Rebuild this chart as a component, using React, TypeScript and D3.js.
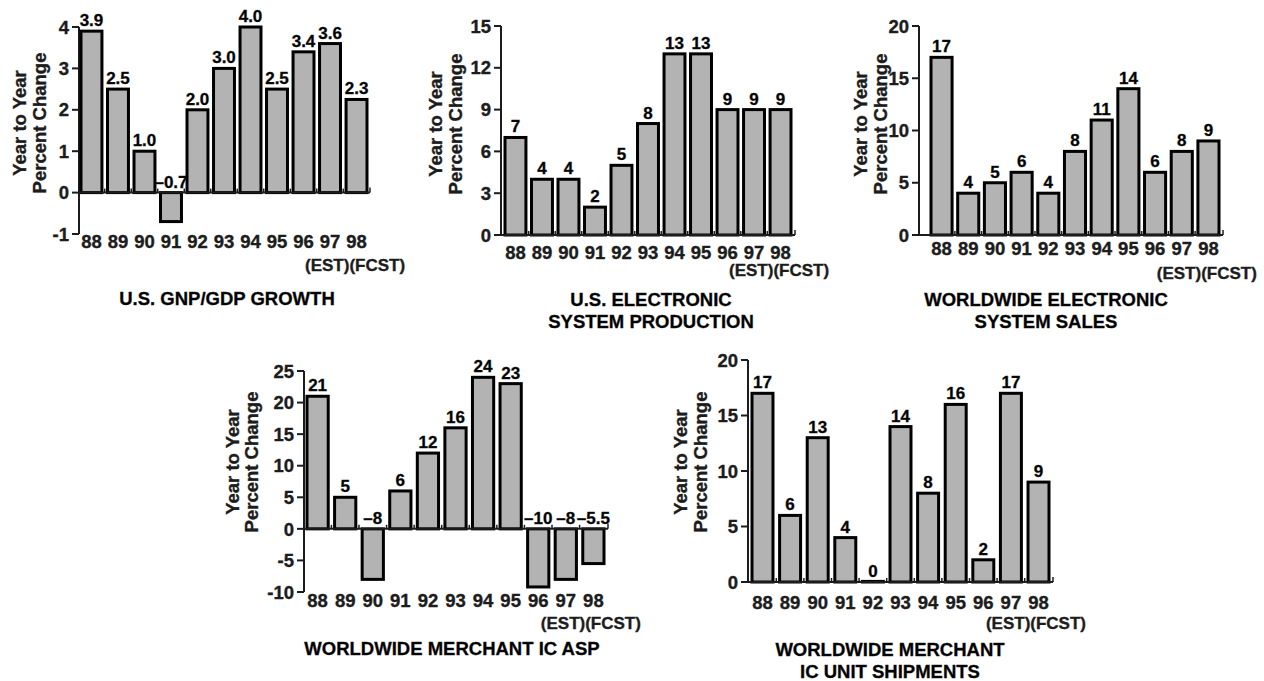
import React from "react";
import * as d3 from "d3";

const years = ["88", "89", "90", "91", "92", "93", "94", "95", "96", "97", "98"];

const gnpValues = [3.9, 2.5, 1.0, -0.7, 2.0, 3.0, 4.0, 2.5, 3.4, 3.6, 2.25];
const gnpLabels = ["3.9", "2.5", "1.0", "\u20130.7", "2.0", "3.0", "4.0", "2.5", "3.4", "3.6", "2.3"];
const gnpTicks = [-1, 0, 1, 2, 3, 4];

const prodValues = [7, 4, 4, 2, 5, 8, 13, 13, 9, 9, 9];
const prodLabels = ["7", "4", "4", "2", "5", "8", "13", "13", "9", "9", "9"];
const prodTicks = [0, 3, 6, 9, 12, 15];

const salesValues = [17, 4, 5, 6, 4, 8, 11, 14, 6, 8, 9];
const salesLabels = ["17", "4", "5", "6", "4", "8", "11", "14", "6", "8", "9"];
const salesTicks = [0, 5, 10, 15, 20];

const aspValues = [21, 5, -8, 6, 12, 16, 24, 23, -9.2, -8, -5.5];
const aspLabels = ["21", "5", "\u20138", "6", "12", "16", "24", "23", "\u201310", "\u20138", "\u20135.5"];
const aspTicks = [-10, -5, 0, 5, 10, 15, 20, 25];

const unitValues = [17, 6, 13, 4, 0, 14, 8, 16, 2, 17, 9];
const unitLabels = ["17", "6", "13", "4", "0", "14", "8", "16", "2", "17", "9"];
const unitTicks = [0, 5, 10, 15, 20];

const estLabel = "(EST)(FCST)";
const yTitle1 = "Year to Year";
const yTitle2 = "Percent Change";

const panels = [
  {
    values: gnpValues, labels: gnpLabels, ticks: gnpTicks, domain: [-1, 4],
    title: ["U.S. GNP/GDP GROWTH"],
    axisX: 79, yTop: 27, yBottom: 234, barStart: 81, barEnd: 367, pad: 0.21, axisEnd: 370,
    xLabelY: 248, estY: 271, titleX: 227, titleY: 305, ylabX1: 19, ylabX2: 41, ylabY: 123,
  },
  {
    values: prodValues, labels: prodLabels, ticks: prodTicks, domain: [0, 15],
    title: ["U.S. ELECTRONIC", "SYSTEM PRODUCTION"],
    axisX: 501, yTop: 26, yBottom: 235, barStart: 505, barEnd: 791, pad: 0.21, axisEnd: 795,
    xLabelY: 259, estY: 276, titleX: 651, titleY: 306, ylabX1: 435, ylabX2: 457, ylabY: 124,
  },
  {
    values: salesValues, labels: salesLabels, ticks: salesTicks, domain: [0, 20],
    title: ["WORLDWIDE ELECTRONIC", "SYSTEM SALES"],
    axisX: 919, yTop: 26, yBottom: 235, barStart: 931, barEnd: 1219, pad: 0.21, axisEnd: 1223,
    xLabelY: 255, estY: 279, titleX: 1046, titleY: 306, ylabX1: 860, ylabX2: 882, ylabY: 124,
  },
  {
    values: aspValues, labels: aspLabels, ticks: aspTicks, domain: [-10, 25],
    title: ["WORLDWIDE MERCHANT IC ASP"],
    axisX: 304, yTop: 371, yBottom: 592, barStart: 307, barEnd: 604, pad: 0.23, axisEnd: 608,
    xLabelY: 607, estY: 629, titleX: 452, titleY: 655, ylabX1: 232, ylabX2: 253, ylabY: 462,
  },
  {
    values: unitValues, labels: unitLabels, ticks: unitTicks, domain: [0, 20],
    title: ["WORLDWIDE MERCHANT", "IC UNIT SHIPMENTS"],
    axisX: 748, yTop: 360, yBottom: 582, barStart: 752, barEnd: 1049, pad: 0.24, axisEnd: 1053,
    xLabelY: 609, estY: 629, titleX: 890, titleY: 656, ylabX1: 680, ylabX2: 702, ylabY: 462,
  },
];

const FONT = "'Liberation Sans', Arial, Helvetica, sans-serif";
const INK = "#1c1c1c";
const TXT = { fontWeight: "bold" as const, stroke: INK, strokeWidth: 0.35 };

function Panel({ p }: { p: any }) {
  const x = d3.scaleBand<string>().domain(years).range([p.barStart, p.barEnd]).paddingInner(p.pad).paddingOuter(0);
  const y = d3.scaleLinear().domain(p.domain).range([p.yBottom, p.yTop]);
  const bw = x.bandwidth();
  const gap = x.step() - bw;
  const y0 = y(0);
  return (
    <g>
      {/* y axis */}
      <line x1={p.axisX} x2={p.axisX} y1={y(p.domain[1])} y2={y(p.domain[0])} stroke={INK} strokeWidth={2} />
      {p.ticks.map((t: number) => (
        <g key={t}>
          <line x1={p.axisX - 7} x2={p.axisX} y1={y(t)} y2={y(t)} stroke={INK} strokeWidth={2} />
          <text x={p.axisX - 10} y={y(t)} dy="0.36em" textAnchor="end" fontSize={18.5} fill={INK} {...TXT}>
            {String(t)}
          </text>
        </g>
      ))}
      {/* bars */}
      {p.values.map((v: number, i: number) => {
        const yr = years[i];
        const hRaw = Math.abs(y(v) - y0);
        const h = Math.max(hRaw, 0.6);
        const yy = v >= 0 ? y0 - h : y0;
        return (
          <rect key={yr} x={x(yr)} y={yy} width={bw} height={h} fill="#b3b3b3" stroke="#000" strokeWidth={3} />
        );
      })}
      {/* x axis */}
      <line x1={p.axisX} x2={p.axisEnd} y1={y0} y2={y0} stroke={INK} strokeWidth={2} />
      {years.slice(1).map((yr) => (
        <line key={"t" + yr} x1={(x(yr) as number) - gap / 2} x2={(x(yr) as number) - gap / 2} y1={y0} y2={y0 - 4}
          stroke={INK} strokeWidth={1.5} />
      ))}
      <line x1={p.axisEnd} x2={p.axisEnd} y1={y0} y2={y0 - 5} stroke={INK} strokeWidth={1.5} />
      {/* value labels */}
      {p.labels.map((lab: string, i: number) => (
        <text key={"l" + i} x={(x(years[i]) as number) + bw / 2} y={y(Math.max(p.values[i], 0)) - 5}
          textAnchor="middle" fontSize={17} fill="#000" {...TXT}>
          {lab}
        </text>
      ))}
      {/* x labels */}
      {years.map((yr) => (
        <text key={"x" + yr} x={(x(yr) as number) + bw / 2} y={p.xLabelY} textAnchor="middle" fontSize={18.5}
          fill={INK} {...TXT}>
          {yr}
        </text>
      ))}
      <text x={(x("97") as number) + bw / 2 - 25} y={p.estY} fontSize={17} fill={INK} {...TXT}>
        {estLabel}
      </text>
      {/* y title */}
      <text transform={`translate(${p.ylabX1 + 6.5},${p.ylabY}) rotate(-90)`} textAnchor="middle" fontSize={18.5}
        fill={INK} {...TXT}>
        {yTitle1}
      </text>
      <text transform={`translate(${p.ylabX2 + 5},${p.ylabY}) rotate(-90)`} textAnchor="middle" fontSize={18.5}
        fill={INK} {...TXT}>
        {yTitle2}
      </text>
      {/* chart title */}
      {p.title.map((t: string, i: number) => (
        <text key={"ti" + i} x={p.titleX} y={p.titleY + i * 22} textAnchor="middle" fontSize={18.5} fill="#000"
          {...TXT}>
          {t}
        </text>
      ))}
    </g>
  );
}

export default function App() {
  return (
    <svg width={1264} height={681} style={{ position: "absolute", left: 0, top: 0, display: "block", background: "#fff" }}
      fontFamily={FONT}>
      <rect x={0} y={0} width={1264} height={681} fill="#fff" />
      {panels.map((p, i) => (
        <Panel key={i} p={p} />
      ))}
    </svg>
  );
}
